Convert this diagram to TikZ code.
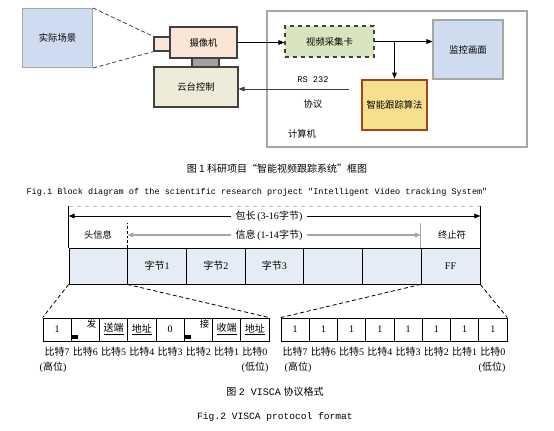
\documentclass[tikz,border=0pt]{standalone}
\usepackage{fontspec}
\setmainfont{Liberation Serif}
\setmonofont{Liberation Mono}
\newfontfamily\cjk{Noto Sans CJK SC}
\usetikzlibrary{arrows.meta}
\definecolor{sceneblue}{HTML}{CFDCEF}
\definecolor{campeach}{HTML}{FBE5D6}
\definecolor{mountgray}{HTML}{A0A0A0}
\definecolor{gimbalbeige}{HTML}{EEEBD8}
\definecolor{cardgreen}{HTML}{D7E4BD}
\definecolor{algoyellow}{HTML}{F7E08D}
\definecolor{algored}{HTML}{A5441A}
\definecolor{linegray}{HTML}{A6A6A6}
\definecolor{darkline}{HTML}{404040}
\definecolor{cellblue}{HTML}{E6ECF6}

\tikzset{
  cnfont/.style={font=\cjk\fontsize{7}{8}\selectfont},
  blockbox/.style={cnfont, draw=darkline, line width=0.8pt, inner sep=0pt},
  cellbox/.style={draw, fill=cellblue, line width=0.6pt, minimum width=58.7*0.75pt, minimum height=36*0.75pt, inner sep=0pt, font=\fontsize{7.5}{8}\selectfont},
  bitbox/.style={draw, line width=0.6pt, minimum width=28.25*0.75pt, minimum height=23*0.75pt, inner sep=0pt, font=\fontsize{7.5}{8}\selectfont},
  bitlabel/.style={inner sep=0pt, font=\fontsize{7.5}{8}\selectfont},
  zoomline/.style={dashed, line width=0.6pt, dash pattern=on 3pt off 2pt},
}

\begin{document}
\begin{tikzpicture}[x=0.75pt,y=-0.75pt,>={Triangle[length=4.5pt,width=3.5pt]}] %1 unit = 1 px of the 554x430 image, y downward
\useasboundingbox (0,0) rectangle (554,430); %Page size
%Figure 1: block diagram
\node[blockbox, draw=linegray, fill=sceneblue, minimum width=70*0.75pt, minimum height=59*0.75pt] (scene) at (57.5,38) {实际场景}; %Real scene
\node[blockbox, fill=campeach, minimum width=16*0.75pt, minimum height=14*0.75pt] (lens) at (162,44) {}; %Lens
\node[blockbox, fill=campeach, minimum width=67*0.75pt, minimum height=31*0.75pt] (camera) at (203.5,42.5) {摄像机}; %Camera
\node[blockbox, fill=mountgray, minimum width=27*0.75pt, minimum height=9*0.75pt] (mount) at (205.5,62.5) {}; %Mount
\node[blockbox, fill=gimbalbeige, minimum width=84*0.75pt, minimum height=40*0.75pt] (gimbal) at (196,87) {云台控制}; %Pan-tilt control
\node[draw=linegray, line width=1.9pt, minimum width=260*0.75pt, minimum height=136*0.75pt, inner sep=0pt] (computer) at (397,79) {}; %Computer frame
\node[blockbox, fill=cardgreen, dashed, minimum width=89*0.75pt, minimum height=31*0.75pt] (card) at (329.5,41.5) {视频采集卡}; %Capture card
\node[blockbox, draw=linegray, fill=sceneblue, minimum width=70*0.75pt, minimum height=59*0.75pt] (monitor) at (468,49.5) {监控画面}; %Monitor
\node[blockbox, draw=algored, line width=2.2pt, fill=algoyellow, minimum width=65*0.75pt, minimum height=50*0.75pt] (algo) at (394.5,105) {智能跟踪算法}; %Tracking algorithm
\node[inner sep=0pt, font=\ttfamily\fontsize{6.5}{7}\selectfont] (rs) at (313,80) {RS 232};
\node[cnfont, inner sep=0pt] (proto) at (313,104) {协议};
\node[cnfont, inner sep=0pt] (comptext) at (302,134) {计算机};
\coordinate (rsstart) at (349,89);
\draw[zoomline, darkline] (scene.north east) -- (lens.north west); %View lines
\draw[zoomline, darkline] (scene.south east) -- (lens.south west);
\draw[->, line width=0.7pt] (camera.east) -- (camera.east -| card.west);
\draw[->, line width=0.7pt] (card.east) -- (card.east -| monitor.west);
\draw[->, line width=0.7pt] (algo.north |- card.east) -- (algo.north);
\draw[->, line width=0.7pt, darkline] (rsstart) -- (rsstart -| gimbal.east);
\node[cnfont, font=\cjk\fontsize{7.5}{8}\selectfont] (cap1cn) at (277,169) {图 1 科研项目“智能视频跟踪系统”框图};
\node[font=\ttfamily\fontsize{6.4}{7}\selectfont] (cap1en) at (257,192) {Fig.1 Block diagram of the scientific research project "Intelligent Video tracking System"};
%Figure 2: packet
\foreach \i/\t in {1/{},2/{{\cjk 字节}1},3/{{\cjk 字节}2},4/{{\cjk 字节}3},5/{},6/{},7/{FF}}
  \node[cellbox] (cell\i) at ({69+58.7*(\i-0.5)},266) {\t}; %Packet bytes
\draw[linegray!70, dashed, line width=0.4pt] (69,206) -- (480,206); %Top guide
\draw[line width=0.6pt] (cell1.north west) -- ++(0,-42);
\draw[line width=0.6pt] (cell7.north east) -- ++(0,-42);
\node[inner sep=3pt, font=\fontsize{7.5}{8}\selectfont] (pklen) at (269,216) {{\cjk 包长}\,(3-16{\cjk 字节})};
\draw[->, line width=0.6pt] (pklen.west) -- (pklen.west -| cell1.west);
\draw[->, line width=0.6pt] (pklen.east) -- (pklen.east -| cell7.east);
\node[inner sep=3pt, font=\fontsize{7.5}{8}\selectfont] (info) at (269,235) {{\cjk 信息}\,(1-14{\cjk 字节})};
\draw[->, linegray, line width=1pt] (info.west) -- (info.west -| cell2.west);
\draw[->, linegray, line width=1pt] (info.east) -- (info.east -| cell7.west);
\draw[dashed, line width=0.6pt, dash pattern=on 2pt off 1.5pt] (cell2.north west) -- ++(0,-25);
\draw[linegray, line width=0.5pt] (cell7.north west) -- ++(0,-25);
\node[cnfont] (head) at (98,235) {头信息};
\node[cnfont] (term) at (452,235) {终止符};
%Bit fields
\foreach \i/\t in {1/1,2/{},3/{\cjk\underline{送端}},4/{\cjk\underline{地址}},5/0,6/{},7/{\cjk\underline{收端}},8/{\cjk\underline{地址}}}{
  \node[bitbox] (bitL\i) at ({43+28.25*(\i-0.5)},329.5) {\t}; %Left byte
  \node[bitbox] (bitR\i) at ({281+28.25*(\i-0.5)},329.5) {1}; %Right byte
  \pgfmathtruncatemacro{\b}{8-\i}
  \node[bitlabel] (lbL\i) at ({43+28.25*(\i-0.5)},352) {{\cjk 比特}\b};
  \node[bitlabel] (lbR\i) at ({281+28.25*(\i-0.5)},352) {{\cjk 比特}\b};
}
\node[cnfont, anchor=north east, inner sep=1pt] (fa) at ([xshift=-1.5pt,yshift=-0.5pt]bitL2.north east) {发};
\node[cnfont, anchor=north east, inner sep=1pt] (jie) at ([xshift=-1.5pt,yshift=-0.5pt]bitL6.north east) {接};
\fill ([xshift=0.5pt,yshift=1.5pt]bitL2.south west) rectangle ++(6,-4);
\fill ([xshift=0.5pt,yshift=1.5pt]bitL6.south west) rectangle ++(6,-4);
\node[bitlabel] (hiL) at (53,367) {({\cjk 高位})};
\node[bitlabel] (loL) at (255,367) {({\cjk 低位})};
\node[bitlabel] (hiR) at (298,367) {({\cjk 高位})};
\node[bitlabel] (loR) at (492,367) {({\cjk 低位})};
\draw[zoomline] (cell1.south west) -- (bitL1.north west); %Zoom lines
\draw[zoomline] (cell2.south west) -- (bitL8.north east);
\draw[zoomline] (cell7.south west) -- (bitR1.north west);
\draw[zoomline] (cell7.south east) -- (bitR8.north east);
\node[font=\fontsize{7.5}{8}\selectfont] (cap2cn) at (275,392) {{\cjk 图} {\ttfamily 2 VISCA} {\cjk 协议格式}};
\node[font=\ttfamily\fontsize{7.2}{8}\selectfont] (cap2en) at (275,417) {Fig.2 VISCA protocol format};
\end{tikzpicture}
\end{document}
